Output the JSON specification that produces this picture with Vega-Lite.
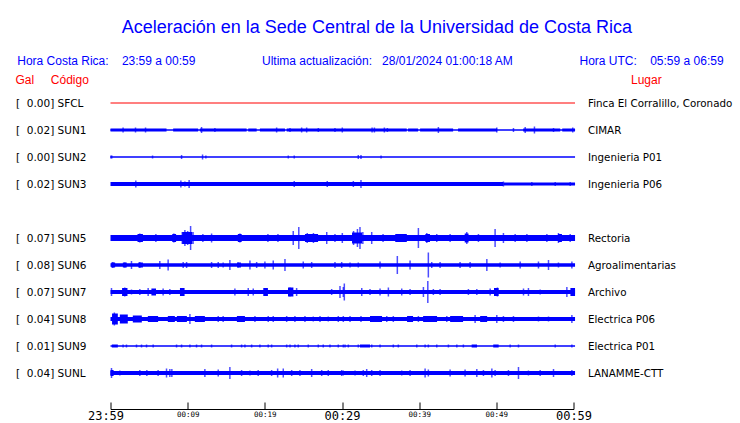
{
  "$schema": "https://vega.github.io/schema/vega-lite/v6.json",
  "width": 463,
  "height": 297,
  "autosize": "none",
  "padding": {"left": 110.5, "top": 89.5, "right": 166.5, "bottom": 36.5},
  "background": "white",
  "title": {
    "text": "\u2800Aceleración en la Sede Central de la Universidad de Costa Rica",
    "subtitle": "Hora Costa Rica:\u00a0\u00a0\u00a0 23:59 a 00:59\u00a0\u00a0\u00a0\u00a0\u00a0\u00a0\u00a0\u00a0\u00a0\u00a0\u00a0\u00a0\u00a0\u00a0\u00a0\u00a0\u00a0\u00a0\u00a0 Ultima actualización:\u00a0\u00a0 28/01/2024 01:00:18 AM\u00a0\u00a0\u00a0\u00a0\u00a0\u00a0\u00a0\u00a0\u00a0\u00a0\u00a0\u00a0\u00a0\u00a0\u00a0\u00a0\u00a0\u00a0\u00a0 Hora UTC:\u00a0\u00a0\u00a0 05:59 a 06:59",
    "anchor": "middle",
    "frame": "bounds",
    "dx": -3,
    "color": "#0000ff",
    "font": "Liberation Sans",
    "fontSize": 18,
    "fontWeight": "normal",
    "subtitleColor": "#0000ff",
    "subtitleFont": "Liberation Sans",
    "subtitleFontSize": 12,
    "subtitlePadding": 19,
    "offset": 6
  },
  "config": {"view": {"stroke": null}, "axis": {"grid": false}},
  "datasets": {
    "stations": [
      {"row": 0, "code": "SFCL", "left": "[\u00a0\u00a00.00]\u00a0SFCL", "place": "Finca El Corralillo, Coronado"},
      {"row": 1, "code": "SUN1", "left": "[\u00a0\u00a00.02]\u00a0SUN1", "place": "CIMAR"},
      {"row": 2, "code": "SUN2", "left": "[\u00a0\u00a00.00]\u00a0SUN2", "place": "Ingenieria P01"},
      {"row": 3, "code": "SUN3", "left": "[\u00a0\u00a00.02]\u00a0SUN3", "place": "Ingenieria P06"},
      {"row": 4, "code": "SUN4", "left": "\u00a0", "place": "\u00a0"},
      {"row": 5, "code": "SUN5", "left": "[\u00a0\u00a00.07]\u00a0SUN5", "place": "Rectoria"},
      {"row": 6, "code": "SUN6", "left": "[\u00a0\u00a00.08]\u00a0SUN6", "place": "Agroalimentarias"},
      {"row": 7, "code": "SUN7", "left": "[\u00a0\u00a00.07]\u00a0SUN7", "place": "Archivo"},
      {"row": 8, "code": "SUN8", "left": "[\u00a0\u00a00.04]\u00a0SUN8", "place": "Electrica P06"},
      {"row": 9, "code": "SUN9", "left": "[\u00a0\u00a00.01]\u00a0SUN9", "place": "Electrica P01"},
      {"row": 10, "code": "SUNL", "left": "[\u00a0\u00a00.04]\u00a0SUNL", "place": "LANAMME-CTT"}
    ],
    "segments": [
      {"code": "SFCL", "t0": 0, "t1": 60.2, "amp": 1},
      {"code": "SUN1", "t0": 0, "t1": 60.2, "amp": 1.3},
      {"code": "SUN1", "t0": 0, "t1": 7.26, "amp": 3},
      {"code": "SUN1", "t0": 8.12, "t1": 11.36, "amp": 3},
      {"code": "SUN1", "t0": 11.58, "t1": 17.64, "amp": 3},
      {"code": "SUN1", "t0": 17.85, "t1": 18.94, "amp": 3},
      {"code": "SUN1", "t0": 19.36, "t1": 22.61, "amp": 3},
      {"code": "SUN1", "t0": 22.83, "t1": 38.39, "amp": 3},
      {"code": "SUN1", "t0": 38.56, "t1": 39.86, "amp": 3},
      {"code": "SUN1", "t0": 40.12, "t1": 44.4, "amp": 3},
      {"code": "SUN1", "t0": 45.04, "t1": 50.1, "amp": 3},
      {"code": "SUN1", "t0": 53.48, "t1": 58.28, "amp": 3},
      {"code": "SUN1", "t0": 58.54, "t1": 60.2, "amp": 3},
      {"code": "SUN2", "t0": 0, "t1": 60.2, "amp": 1.3},
      {"code": "SUN3", "t0": 0, "t1": 50.9, "amp": 4},
      {"code": "SUN3", "t0": 50.9, "t1": 60.2, "amp": 3},
      {"code": "SUN5", "t0": 0, "t1": 60.2, "amp": 6},
      {"code": "SUN5", "t0": 3.5, "t1": 4.2, "amp": 8},
      {"code": "SUN5", "t0": 8.0, "t1": 8.5, "amp": 8},
      {"code": "SUN5", "t0": 9.3, "t1": 10.6, "amp": 12},
      {"code": "SUN5", "t0": 16.5, "t1": 17.0, "amp": 8},
      {"code": "SUN5", "t0": 25.2, "t1": 26.9, "amp": 8},
      {"code": "SUN5", "t0": 31.3, "t1": 32.6, "amp": 11},
      {"code": "SUN5", "t0": 36.9, "t1": 38.4, "amp": 8},
      {"code": "SUN5", "t0": 40.8, "t1": 41.4, "amp": 8},
      {"code": "SUN5", "t0": 45.9, "t1": 46.4, "amp": 9},
      {"code": "SUN5", "t0": 58.0, "t1": 58.5, "amp": 8},
      {"code": "SUN6", "t0": 0, "t1": 60.2, "amp": 3.5},
      {"code": "SUN6", "t0": 0.1, "t1": 0.6, "amp": 5},
      {"code": "SUN6", "t0": 1.6, "t1": 2.1, "amp": 5},
      {"code": "SUN6", "t0": 3.6, "t1": 4.2, "amp": 5},
      {"code": "SUN6", "t0": 16.4, "t1": 16.9, "amp": 5},
      {"code": "SUN7", "t0": 0, "t1": 60.2, "amp": 4},
      {"code": "SUN7", "t0": 1.5, "t1": 2.2, "amp": 8},
      {"code": "SUN7", "t0": 5.3, "t1": 5.9, "amp": 7},
      {"code": "SUN7", "t0": 9.0, "t1": 9.6, "amp": 8},
      {"code": "SUN7", "t0": 19.8, "t1": 20.4, "amp": 8},
      {"code": "SUN7", "t0": 23.0, "t1": 23.7, "amp": 9},
      {"code": "SUN7", "t0": 49.7, "t1": 50.3, "amp": 8},
      {"code": "SUN7", "t0": 59.6, "t1": 60.2, "amp": 8},
      {"code": "SUN8", "t0": 0, "t1": 60.2, "amp": 4},
      {"code": "SUN8", "t0": 0.2, "t1": 0.95, "amp": 11},
      {"code": "SUN8", "t0": 1.21, "t1": 2.24, "amp": 9},
      {"code": "SUN8", "t0": 2.89, "t1": 4.06, "amp": 7},
      {"code": "SUN8", "t0": 4.84, "t1": 6.17, "amp": 6},
      {"code": "SUN8", "t0": 7.43, "t1": 8.34, "amp": 6},
      {"code": "SUN8", "t0": 8.6, "t1": 9.9, "amp": 6},
      {"code": "SUN8", "t0": 10.93, "t1": 12.23, "amp": 6},
      {"code": "SUN8", "t0": 16.38, "t1": 17.42, "amp": 6},
      {"code": "SUN8", "t0": 33.63, "t1": 35.19, "amp": 6},
      {"code": "SUN8", "t0": 38.43, "t1": 39.21, "amp": 6},
      {"code": "SUN8", "t0": 40.51, "t1": 42.32, "amp": 6},
      {"code": "SUN8", "t0": 44.01, "t1": 45.69, "amp": 6},
      {"code": "SUN8", "t0": 47.9, "t1": 48.81, "amp": 6},
      {"code": "SUN9", "t0": 0, "t1": 60.2, "amp": 1.5},
      {"code": "SUN9", "t0": 0.17, "t1": 0.95, "amp": 3},
      {"code": "SUN9", "t0": 32.33, "t1": 33.63, "amp": 3},
      {"code": "SUN9", "t0": 46.8, "t1": 47.5, "amp": 3},
      {"code": "SUN9", "t0": 49.6, "t1": 50.3, "amp": 3},
      {"code": "SUNL", "t0": 0, "t1": 60.2, "amp": 4},
      {"code": "SUNL", "t0": 0, "t1": 0.4, "amp": 6}
    ],
    "spikes": [
      {"code": "SUN1", "t": 1.63, "amp": 5}, {"code": "SUN1", "t": 3.24, "amp": 5}, {"code": "SUN1", "t": 4.54, "amp": 5},
      {"code": "SUN1", "t": 11.8, "amp": 6}, {"code": "SUN1", "t": 13.53, "amp": 4}, {"code": "SUN1", "t": 21.53, "amp": 5},
      {"code": "SUN1", "t": 23.26, "amp": 4}, {"code": "SUN1", "t": 24.77, "amp": 5}, {"code": "SUN1", "t": 25.42, "amp": 5},
      {"code": "SUN1", "t": 26.93, "amp": 4}, {"code": "SUN1", "t": 29.09, "amp": 4}, {"code": "SUN1", "t": 30.04, "amp": 5},
      {"code": "SUN1", "t": 33.9, "amp": 5}, {"code": "SUN1", "t": 34.2, "amp": 5}, {"code": "SUN1", "t": 35.49, "amp": 5},
      {"code": "SUN1", "t": 35.88, "amp": 4}, {"code": "SUN1", "t": 42.49, "amp": 6}, {"code": "SUN1", "t": 50.06, "amp": 5},
      {"code": "SUN1", "t": 52.22, "amp": 4}, {"code": "SUN1", "t": 53.74, "amp": 6}, {"code": "SUN1", "t": 54.94, "amp": 7},
      {"code": "SUN1", "t": 57.41, "amp": 4}, {"code": "SUN1", "t": 59.9, "amp": 5},
      {"code": "SUN2", "t": 0.05, "amp": 3}, {"code": "SUN2", "t": 0.17, "amp": 3}, {"code": "SUN2", "t": 5.45, "amp": 3},
      {"code": "SUN2", "t": 9.21, "amp": 4}, {"code": "SUN2", "t": 11.93, "amp": 5}, {"code": "SUN2", "t": 12.36, "amp": 3},
      {"code": "SUN2", "t": 23.04, "amp": 3}, {"code": "SUN2", "t": 23.81, "amp": 3}, {"code": "SUN2", "t": 32.11, "amp": 4},
      {"code": "SUN2", "t": 32.46, "amp": 4}, {"code": "SUN2", "t": 35.06, "amp": 3},
      {"code": "SUN3", "t": 3.28, "amp": 7}, {"code": "SUN3", "t": 9.12, "amp": 7}, {"code": "SUN3", "t": 9.64, "amp": 5},
      {"code": "SUN3", "t": 10.19, "amp": 8}, {"code": "SUN3", "t": 23.81, "amp": 6}, {"code": "SUN3", "t": 28.09, "amp": 6},
      {"code": "SUN3", "t": 31.47, "amp": 6}, {"code": "SUN3", "t": 32.46, "amp": 8}, {"code": "SUN3", "t": 50.92, "amp": 5},
      {"code": "SUN3", "t": 54.6, "amp": 4}, {"code": "SUN3", "t": 57.63, "amp": 4}, {"code": "SUN3", "t": 59.57, "amp": 4},
      {"code": "SUN5", "t": 3.8, "amp": 9}, {"code": "SUN5", "t": 5.88, "amp": 8}, {"code": "SUN5", "t": 8.21, "amp": 9},
      {"code": "SUN5", "t": 9.3, "amp": 12}, {"code": "SUN5", "t": 9.64, "amp": 16}, {"code": "SUN5", "t": 10.0, "amp": 14},
      {"code": "SUN5", "t": 10.38, "amp": 24}, {"code": "SUN5", "t": 10.7, "amp": 12}, {"code": "SUN5", "t": 11.97, "amp": 8},
      {"code": "SUN5", "t": 13.1, "amp": 9}, {"code": "SUN5", "t": 16.77, "amp": 9}, {"code": "SUN5", "t": 20.4, "amp": 8},
      {"code": "SUN5", "t": 21.7, "amp": 8}, {"code": "SUN5", "t": 23.68, "amp": 14}, {"code": "SUN5", "t": 24.4, "amp": 22},
      {"code": "SUN5", "t": 25.5, "amp": 10}, {"code": "SUN5", "t": 26.3, "amp": 10}, {"code": "SUN5", "t": 28.02, "amp": 12},
      {"code": "SUN5", "t": 29.09, "amp": 8}, {"code": "SUN5", "t": 30.04, "amp": 10}, {"code": "SUN5", "t": 31.5, "amp": 14},
      {"code": "SUN5", "t": 32.0, "amp": 18}, {"code": "SUN5", "t": 32.33, "amp": 22}, {"code": "SUN5", "t": 32.7, "amp": 12},
      {"code": "SUN5", "t": 33.85, "amp": 12}, {"code": "SUN5", "t": 35.32, "amp": 8}, {"code": "SUN5", "t": 39.9, "amp": 20},
      {"code": "SUN5", "t": 40.99, "amp": 10}, {"code": "SUN5", "t": 42.28, "amp": 8}, {"code": "SUN5", "t": 44.01, "amp": 8},
      {"code": "SUN5", "t": 46.17, "amp": 12}, {"code": "SUN5", "t": 47.68, "amp": 8}, {"code": "SUN5", "t": 49.84, "amp": 18},
      {"code": "SUN5", "t": 50.92, "amp": 10}, {"code": "SUN5", "t": 52.44, "amp": 8}, {"code": "SUN5", "t": 53.96, "amp": 8},
      {"code": "SUN5", "t": 56.55, "amp": 8}, {"code": "SUN5", "t": 58.05, "amp": 10}, {"code": "SUN5", "t": 59.57, "amp": 8},
      {"code": "SUN6", "t": 0.3, "amp": 6}, {"code": "SUN6", "t": 1.85, "amp": 5}, {"code": "SUN6", "t": 2.72, "amp": 8},
      {"code": "SUN6", "t": 3.8, "amp": 6}, {"code": "SUN6", "t": 6.39, "amp": 8}, {"code": "SUN6", "t": 7.47, "amp": 11},
      {"code": "SUN6", "t": 9.42, "amp": 6}, {"code": "SUN6", "t": 9.86, "amp": 6}, {"code": "SUN6", "t": 13.1, "amp": 6},
      {"code": "SUN6", "t": 13.96, "amp": 6}, {"code": "SUN6", "t": 14.6, "amp": 5}, {"code": "SUN6", "t": 15.47, "amp": 10},
      {"code": "SUN6", "t": 16.55, "amp": 5}, {"code": "SUN6", "t": 18.07, "amp": 9}, {"code": "SUN6", "t": 18.94, "amp": 6},
      {"code": "SUN6", "t": 20.01, "amp": 7}, {"code": "SUN6", "t": 21.09, "amp": 9}, {"code": "SUN6", "t": 22.61, "amp": 12},
      {"code": "SUN6", "t": 24.98, "amp": 7}, {"code": "SUN6", "t": 26.07, "amp": 6}, {"code": "SUN6", "t": 29.09, "amp": 6},
      {"code": "SUN6", "t": 29.96, "amp": 6}, {"code": "SUN6", "t": 31.04, "amp": 5}, {"code": "SUN6", "t": 32.11, "amp": 5},
      {"code": "SUN6", "t": 34.93, "amp": 7}, {"code": "SUN6", "t": 37.17, "amp": 18}, {"code": "SUN6", "t": 38.82, "amp": 9},
      {"code": "SUN6", "t": 41.19, "amp": 25}, {"code": "SUN6", "t": 41.63, "amp": 6}, {"code": "SUN6", "t": 42.71, "amp": 6},
      {"code": "SUN6", "t": 45.3, "amp": 6}, {"code": "SUN6", "t": 46.6, "amp": 6}, {"code": "SUN6", "t": 48.77, "amp": 12},
      {"code": "SUN6", "t": 50.49, "amp": 5}, {"code": "SUN6", "t": 53.09, "amp": 7}, {"code": "SUN6", "t": 55.46, "amp": 7},
      {"code": "SUN6", "t": 56.76, "amp": 10}, {"code": "SUN6", "t": 58.05, "amp": 5}, {"code": "SUN6", "t": 59.79, "amp": 7},
      {"code": "SUN7", "t": 0.13, "amp": 8}, {"code": "SUN7", "t": 1.85, "amp": 9}, {"code": "SUN7", "t": 2.72, "amp": 5},
      {"code": "SUN7", "t": 3.8, "amp": 6}, {"code": "SUN7", "t": 4.88, "amp": 8}, {"code": "SUN7", "t": 5.53, "amp": 6},
      {"code": "SUN7", "t": 6.82, "amp": 7}, {"code": "SUN7", "t": 7.69, "amp": 6}, {"code": "SUN7", "t": 9.21, "amp": 8},
      {"code": "SUN7", "t": 16.12, "amp": 7}, {"code": "SUN7", "t": 17.85, "amp": 8}, {"code": "SUN7", "t": 18.5, "amp": 7},
      {"code": "SUN7", "t": 20.01, "amp": 8}, {"code": "SUN7", "t": 23.26, "amp": 9}, {"code": "SUN7", "t": 24.12, "amp": 8},
      {"code": "SUN7", "t": 28.66, "amp": 6}, {"code": "SUN7", "t": 29.74, "amp": 12}, {"code": "SUN7", "t": 30.17, "amp": 10},
      {"code": "SUN7", "t": 30.3, "amp": 17}, {"code": "SUN7", "t": 32.56, "amp": 8}, {"code": "SUN7", "t": 33.63, "amp": 6},
      {"code": "SUN7", "t": 34.93, "amp": 7}, {"code": "SUN7", "t": 36.01, "amp": 9}, {"code": "SUN7", "t": 37.74, "amp": 7},
      {"code": "SUN7", "t": 38.82, "amp": 6}, {"code": "SUN7", "t": 40.55, "amp": 10}, {"code": "SUN7", "t": 41.12, "amp": 22},
      {"code": "SUN7", "t": 41.84, "amp": 6}, {"code": "SUN7", "t": 42.71, "amp": 6}, {"code": "SUN7", "t": 46.38, "amp": 6},
      {"code": "SUN7", "t": 47.47, "amp": 6}, {"code": "SUN7", "t": 49.2, "amp": 7}, {"code": "SUN7", "t": 50.14, "amp": 9},
      {"code": "SUN7", "t": 53.52, "amp": 7}, {"code": "SUN7", "t": 54.16, "amp": 8}, {"code": "SUN7", "t": 55.68, "amp": 5},
      {"code": "SUN7", "t": 59.14, "amp": 10}, {"code": "SUN7", "t": 60.0, "amp": 8},
      {"code": "SUN8", "t": 0.5, "amp": 13}, {"code": "SUN8", "t": 10.29, "amp": 10}, {"code": "SUN8", "t": 13.96, "amp": 6},
      {"code": "SUN8", "t": 14.6, "amp": 6}, {"code": "SUN8", "t": 18.72, "amp": 6}, {"code": "SUN8", "t": 20.44, "amp": 6},
      {"code": "SUN8", "t": 21.09, "amp": 6}, {"code": "SUN8", "t": 22.83, "amp": 6}, {"code": "SUN8", "t": 23.9, "amp": 6},
      {"code": "SUN8", "t": 25.2, "amp": 6}, {"code": "SUN8", "t": 26.28, "amp": 5}, {"code": "SUN8", "t": 27.15, "amp": 6},
      {"code": "SUN8", "t": 28.22, "amp": 5}, {"code": "SUN8", "t": 29.52, "amp": 6}, {"code": "SUN8", "t": 30.17, "amp": 6},
      {"code": "SUN8", "t": 31.04, "amp": 6}, {"code": "SUN8", "t": 32.46, "amp": 6}, {"code": "SUN8", "t": 35.8, "amp": 6},
      {"code": "SUN8", "t": 36.65, "amp": 6}, {"code": "SUN8", "t": 39.9, "amp": 6}, {"code": "SUN8", "t": 43.58, "amp": 6},
      {"code": "SUN8", "t": 47.25, "amp": 8}, {"code": "SUN8", "t": 50.06, "amp": 8}, {"code": "SUN8", "t": 50.92, "amp": 6},
      {"code": "SUN8", "t": 52.22, "amp": 6}, {"code": "SUN8", "t": 55.46, "amp": 5}, {"code": "SUN8", "t": 56.76, "amp": 5},
      {"code": "SUN8", "t": 59.79, "amp": 8},
      {"code": "SUN9", "t": 1.63, "amp": 3}, {"code": "SUN9", "t": 2.07, "amp": 3}, {"code": "SUN9", "t": 3.37, "amp": 3},
      {"code": "SUN9", "t": 4.02, "amp": 3}, {"code": "SUN9", "t": 4.67, "amp": 3}, {"code": "SUN9", "t": 5.53, "amp": 3},
      {"code": "SUN9", "t": 8.56, "amp": 3}, {"code": "SUN9", "t": 9.21, "amp": 3}, {"code": "SUN9", "t": 10.29, "amp": 3},
      {"code": "SUN9", "t": 11.15, "amp": 3}, {"code": "SUN9", "t": 11.8, "amp": 3}, {"code": "SUN9", "t": 13.1, "amp": 3},
      {"code": "SUN9", "t": 15.69, "amp": 3}, {"code": "SUN9", "t": 16.99, "amp": 3}, {"code": "SUN9", "t": 17.42, "amp": 3},
      {"code": "SUN9", "t": 18.29, "amp": 3}, {"code": "SUN9", "t": 19.36, "amp": 3}, {"code": "SUN9", "t": 20.44, "amp": 3},
      {"code": "SUN9", "t": 20.88, "amp": 3}, {"code": "SUN9", "t": 22.83, "amp": 3}, {"code": "SUN9", "t": 23.26, "amp": 3},
      {"code": "SUN9", "t": 23.9, "amp": 3}, {"code": "SUN9", "t": 24.33, "amp": 3}, {"code": "SUN9", "t": 25.63, "amp": 3},
      {"code": "SUN9", "t": 26.93, "amp": 3}, {"code": "SUN9", "t": 27.57, "amp": 3}, {"code": "SUN9", "t": 28.44, "amp": 3},
      {"code": "SUN9", "t": 29.52, "amp": 3}, {"code": "SUN9", "t": 30.17, "amp": 3}, {"code": "SUN9", "t": 30.39, "amp": 3},
      {"code": "SUN9", "t": 30.82, "amp": 3}, {"code": "SUN9", "t": 32.11, "amp": 3}, {"code": "SUN9", "t": 33.85, "amp": 3},
      {"code": "SUN9", "t": 34.93, "amp": 3}, {"code": "SUN9", "t": 36.65, "amp": 3}, {"code": "SUN9", "t": 37.3, "amp": 3},
      {"code": "SUN9", "t": 39.69, "amp": 3}, {"code": "SUN9", "t": 40.77, "amp": 3}, {"code": "SUN9", "t": 41.19, "amp": 3},
      {"code": "SUN9", "t": 42.28, "amp": 3}, {"code": "SUN9", "t": 43.79, "amp": 3}, {"code": "SUN9", "t": 44.88, "amp": 3},
      {"code": "SUN9", "t": 45.73, "amp": 3}, {"code": "SUN9", "t": 51.79, "amp": 3}, {"code": "SUN9", "t": 52.87, "amp": 3},
      {"code": "SUN9", "t": 57.63, "amp": 3}, {"code": "SUN9", "t": 59.79, "amp": 3},
      {"code": "SUNL", "t": 0.13, "amp": 10}, {"code": "SUNL", "t": 1.21, "amp": 5}, {"code": "SUNL", "t": 3.8, "amp": 6},
      {"code": "SUNL", "t": 4.71, "amp": 6}, {"code": "SUNL", "t": 6.17, "amp": 6}, {"code": "SUNL", "t": 7.26, "amp": 9},
      {"code": "SUNL", "t": 7.69, "amp": 8}, {"code": "SUNL", "t": 7.95, "amp": 8}, {"code": "SUNL", "t": 12.23, "amp": 8},
      {"code": "SUNL", "t": 13.96, "amp": 7}, {"code": "SUNL", "t": 15.47, "amp": 12}, {"code": "SUNL", "t": 16.99, "amp": 6},
      {"code": "SUNL", "t": 18.07, "amp": 5}, {"code": "SUNL", "t": 19.14, "amp": 6}, {"code": "SUNL", "t": 20.88, "amp": 6},
      {"code": "SUNL", "t": 21.66, "amp": 9}, {"code": "SUNL", "t": 22.39, "amp": 9}, {"code": "SUNL", "t": 23.48, "amp": 6},
      {"code": "SUNL", "t": 24.55, "amp": 6}, {"code": "SUNL", "t": 26.07, "amp": 8}, {"code": "SUNL", "t": 27.37, "amp": 6},
      {"code": "SUNL", "t": 28.22, "amp": 6}, {"code": "SUNL", "t": 29.96, "amp": 6}, {"code": "SUNL", "t": 30.17, "amp": 5},
      {"code": "SUNL", "t": 31.69, "amp": 5}, {"code": "SUNL", "t": 32.76, "amp": 6}, {"code": "SUNL", "t": 33.2, "amp": 8},
      {"code": "SUNL", "t": 33.85, "amp": 6}, {"code": "SUNL", "t": 34.93, "amp": 6}, {"code": "SUNL", "t": 37.74, "amp": 5},
      {"code": "SUNL", "t": 38.82, "amp": 6}, {"code": "SUNL", "t": 40.77, "amp": 9}, {"code": "SUNL", "t": 41.19, "amp": 7},
      {"code": "SUNL", "t": 44.01, "amp": 7}, {"code": "SUNL", "t": 45.95, "amp": 7}, {"code": "SUNL", "t": 47.47, "amp": 8},
      {"code": "SUNL", "t": 48.33, "amp": 6}, {"code": "SUNL", "t": 49.42, "amp": 9}, {"code": "SUNL", "t": 49.84, "amp": 6},
      {"code": "SUNL", "t": 51.57, "amp": 6}, {"code": "SUNL", "t": 52.87, "amp": 12}, {"code": "SUNL", "t": 54.16, "amp": 5},
      {"code": "SUNL", "t": 55.68, "amp": 6}, {"code": "SUNL", "t": 57.41, "amp": 8}, {"code": "SUNL", "t": 59.79, "amp": 6}
    ]
  },
  "layer": [
    {
      "data": {"name": "stations"},
      "mark": {"type": "point", "opacity": 0},
      "encoding": {
        "y": {
          "field": "left", "type": "nominal", "sort": {"field": "row", "op": "min"},
          "scale": {"type": "point", "padding": 0.5},
          "axis": {
            "orient": "left", "ticks": false, "domain": false, "labelAlign": "left", "labelPadding": 95,
            "labelFont": "DejaVu Sans", "labelFontSize": 10.5, "labelColor": "black", "labelLimit": 200,
            "title": "Gal\u00a0\u00a0\u00a0\u00a0\u00a0Código", "titleAngle": 0, "titleAlign": "left", "titleBaseline": "middle",
            "titleX": -95.5, "titleY": -10.5, "titleColor": "#ff0000", "titleFont": "Liberation Sans",
            "titleFontSize": 12, "titleFontWeight": "normal"
          }
        }
      }
    },
    {
      "data": {"name": "stations"},
      "mark": {"type": "point", "opacity": 0},
      "encoding": {
        "y": {
          "field": "place", "type": "nominal", "sort": {"field": "row", "op": "min"},
          "scale": {"type": "point", "padding": 0.5},
          "axis": {
            "orient": "right", "ticks": false, "domain": false, "labelAlign": "left", "labelPadding": 14,
            "labelFont": "DejaVu Sans", "labelFontSize": 10.3, "labelColor": "black", "labelLimit": 200,
            "title": "Lugar", "titleAngle": 0, "titleAlign": "left", "titleBaseline": "middle",
            "titleX": 57, "titleY": -10.5, "titleColor": "#ff0000", "titleFont": "Liberation Sans",
            "titleFontSize": 12, "titleFontWeight": "normal"
          }
        }
      }
    },
    {
      "layer": [
        {
          "data": {"name": "segments"},
          "mark": {"type": "bar", "orient": "horizontal"},
          "encoding": {
            "x": {
              "field": "t0", "type": "quantitative",
              "scale": {"domain": [0, 60], "nice": false, "zero": false},
              "axis": {
                "values": [0, 5, 10, 15, 20, 25, 30, 35, 40, 45, 50, 55, 60],
                "labelExpr": "['23:59','','00:09','','00:19','','00:29','','00:39','','00:49','','00:59'][round(datum.value/5)]",
                "title": null, "offset": 22.5, "tickSize": -7, "domainColor": "black", "tickColor": "black",
                "domainWidth": 1, "tickWidth": 1,
                "labelColor": "black", "labelFont": "DejaVu Sans Mono",
                "labelFontSize": {"condition": {"test": "datum.value % 30 === 0", "value": 12}, "value": 7.5},
                "labelOffset": {"condition": {"test": "datum.value === 0", "value": -5}, "value": 0},
                "labelOverlap": false, "labelFlush": false, "labelPadding": 8, "grid": false
              }
            },
            "x2": {"field": "t1"},
            "y": {
              "field": "code", "type": "nominal",
              "scale": {"domain": ["SFCL", "SUN1", "SUN2", "SUN3", "SUN4", "SUN5", "SUN6", "SUN7", "SUN8", "SUN9", "SUNL"], "paddingInner": 0, "paddingOuter": 0},
              "axis": null
            },
            "size": {"field": "amp", "type": "quantitative", "scale": {"domain": [0, 30], "range": [0, 30]}, "legend": null},
            "color": {"condition": {"test": "datum.code === 'SFCL'", "value": "#ff0000"}, "value": "#0000ff"}
          }
        },
        {
          "data": {"name": "spikes"},
          "mark": {"type": "tick", "thickness": 1.5, "orient": "vertical"},
          "encoding": {
            "x": {"field": "t", "type": "quantitative"},
            "y": {"field": "code", "type": "nominal", "axis": null},
            "size": {"field": "amp", "type": "quantitative", "scale": {"domain": [0, 30], "range": [0, 30]}, "legend": null},
            "color": {"value": "#0000ff"}
          }
        }
      ]
    }
  ],
  "resolve": {"scale": {"y": "independent"}}
}
